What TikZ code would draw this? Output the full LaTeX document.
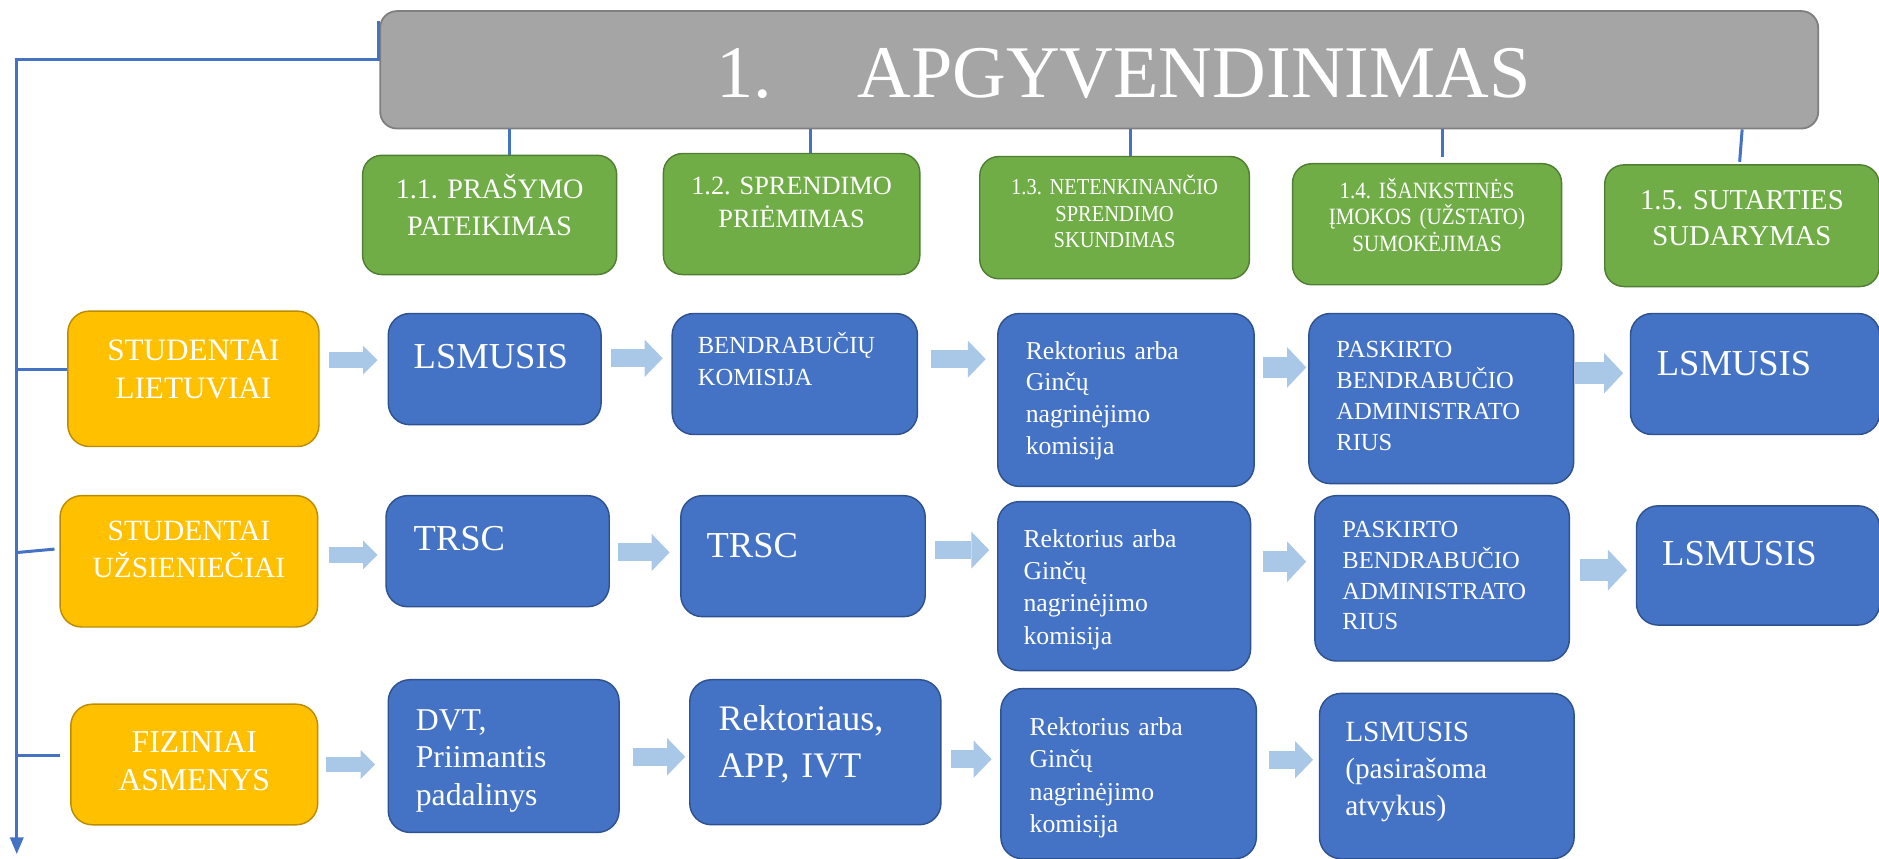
\documentclass[tikz,border=0pt]{standalone}
\usepackage{fontspec}
\setmainfont{Liberation Serif}
\newfontfamily\condserif[FakeStretch=0.9]{Liberation Serif}
\usetikzlibrary{arrows.meta,calc}
\frenchspacing
\definecolor{titlegray}{HTML}{A5A5A5}
\definecolor{titleedge}{HTML}{7F7F7F}
\definecolor{stepgreen}{HTML}{70AD47}
\definecolor{stepedge}{HTML}{507E32}
\definecolor{groupyellow}{HTML}{FFC000}
\definecolor{groupedge}{HTML}{BC8C00}
\definecolor{unitblue}{HTML}{4472C4}
\definecolor{unitedge}{HTML}{2F528F}
\definecolor{arrowblue}{HTML}{A9C8E8}
\definecolor{connblue}{HTML}{4472C4}
% name, style, x, y, w, h, first-baseline offset, side padding, text
\newcommand\mybox[9]{%
  \pgfmathsetmacro\myTW{#5-2*#8}\pgfmathsetmacro\myTD{#6-#7}%
  \node[#2, anchor=north west, inner sep=0pt, minimum width=#5pt,
        text width=\myTW pt, text height=#7pt, text depth=\myTD pt] (#1) at (#3,#4) {\frenchspacing #9};}
% style, from, to, gap at start, gap at end, y
\newcommand\barr[6]{%
  \coordinate (tmpY) at (0,#6);
  \path (#2.east) ++(#4,0) coordinate (tmpA);
  \path (#3.west) ++(-#5,0) coordinate (tmpB);
  \draw[#1] (tmpA |- tmpY) -- (tmpB |- tmpY);}
\begin{document}
\begin{tikzpicture}[x=1pt,y=-1pt,
  titlebox/.style={fill=titlegray, draw=titleedge, line width=1.5pt, rounded corners=14pt, text=white, align=left},
  stepbox/.style={fill=stepgreen, draw=stepedge, line width=1.2pt, rounded corners=16pt, text=white, align=center},
  groupbox/.style={fill=groupyellow, draw=groupedge, line width=1.2pt, rounded corners=18pt, text=white, align=center},
  unitbox/.style={fill=unitblue, draw=unitedge, line width=1.2pt, rounded corners=18pt, text=white, align=left},
  conn/.style={draw=connblue, line width=2.5pt},
  barrow/.style={draw=arrowblue, line width=15pt, -{Triangle[length=15pt,width=31pt,line width=0pt]}},
  barrowS/.style={draw=arrowblue, line width=13pt, -{Triangle[length=12pt,width=24pt,line width=0pt]}},
  barrowL/.style={draw=arrowblue, line width=18pt, -{Triangle[length=16pt,width=34pt,line width=0pt]}}]
\useasboundingbox (0,0) rectangle (1568,716);

% title
\mybox{title}{titlebox,font=\fontsize{62}{70}\selectfont}{316.5}{8.5}{1200}{98}{72.5}{20}{\hspace*{260.5pt}\makebox[118pt][l]{1.}APGYVENDINIMAS}

% steps
\mybox{g1}{stepbox,font=\fontsize{23.5}{31}\selectfont}{302}{129}{212}{99.5}{36}{4}{1.1. PRAŠYMO\\PATEIKIMAS}
\mybox{g2}{stepbox,font=\fontsize{22}{27}\selectfont}{553}{127.5}{214}{101}{34.5}{4}{1.2. SPRENDIMO\\PRIĖMIMAS}
\mybox{g3}{stepbox,font=\condserif\fontsize{19}{22}\selectfont}{817}{130}{225}{102}{32}{4}{1.3. NETENKINANČIO\\SPRENDIMO\\SKUNDIMAS}
\mybox{g4}{stepbox,font=\condserif\fontsize{19.5}{22}\selectfont}{1078}{136}{224.5}{101}{29}{4}{1.4. IŠANKSTINĖS\\ĮMOKOS (UŽSTATO)\\SUMOKĖJIMAS}
\mybox{g5}{stepbox,font=\fontsize{24}{30}\selectfont}{1338.5}{137}{229}{101.5}{37}{4}{1.5. SUTARTIES\\SUDARYMAS}

% groups
\mybox{ly1}{groupbox,font=\fontsize{26}{31.5}\selectfont}{56}{259}{209.6}{113}{41.5}{4}{STUDENTAI\\LIETUVIAI}
\mybox{ly2}{groupbox,font=\fontsize{24.5}{30.5}\selectfont}{49.5}{413}{215}{109.6}{37.6}{4}{STUDENTAI\\UŽSIENIEČIAI}
\mybox{ly3}{groupbox,font=\fontsize{26.5}{32}\selectfont}{58.5}{587}{206}{100.7}{40}{4}{FIZINIAI\\ASMENYS}

% units row 1
\mybox{b11}{unitbox,font=\fontsize{30.5}{36}\selectfont}{323.4}{261}{177.6}{92.8}{46}{21.2}{LSMUSIS}
\mybox{b12}{unitbox,font=\fontsize{20.5}{27}\selectfont}{560.3}{261}{204.7}{101}{33}{21.4}{BENDRABUČIŲ\\KOMISIJA}
\mybox{b13}{unitbox,font=\fontsize{21.5}{26.5}\selectfont}{832}{261}{214}{144.3}{38}{23.4}{Rektorius arba\\Ginčų\\nagrinėjimo\\komisija}
\mybox{b14}{unitbox,font=\fontsize{20.5}{26}\selectfont}{1091.6}{261}{221}{142}{36.6}{23}{PASKIRTO\\BENDRABUČIO\\ADMINISTRATO\\RIUS}
\mybox{b15}{unitbox,font=\fontsize{30.5}{36}\selectfont}{1360}{261}{208}{101}{52}{22}{LSMUSIS}
% units row 2
\mybox{b21}{unitbox,font=\fontsize{30.5}{36}\selectfont}{321.5}{413}{186.3}{92.7}{46}{23}{TRSC}
\mybox{b22}{unitbox,font=\fontsize{30.5}{36}\selectfont}{567.5}{413}{204}{101}{51.5}{21.5}{TRSC}
\mybox{b23}{unitbox,font=\fontsize{21.5}{27}\selectfont}{832}{418}{211}{141}{38}{21.5}{Rektorius arba\\Ginčų\\nagrinėjimo\\komisija}
\mybox{b24}{unitbox,font=\fontsize{20.5}{25.7}\selectfont}{1096.6}{413}{212.4}{138}{35}{23}{PASKIRTO\\BENDRABUČIO\\ADMINISTRATO\\RIUS}
\mybox{b25}{unitbox,font=\fontsize{30.5}{36}\selectfont}{1365}{421.5}{203}{99.5}{50}{21.5}{LSMUSIS}
% units row 3
\mybox{b31}{unitbox,font=\fontsize{26.5}{31.5}\selectfont}{323.4}{566.6}{192.6}{127.4}{42}{23}{DVT,\\Priimantis\\padalinys}
\mybox{b32}{unitbox,font=\fontsize{30}{39}\selectfont}{575}{566.6}{209.6}{121}{42.5}{24}{Rektoriaus,\\APP, IVT}
\mybox{b33}{unitbox,font=\fontsize{21.5}{27}\selectfont}{834.6}{574}{213.2}{142}{39}{24}{Rektorius arba\\Ginčų\\nagrinėjimo\\komisija}
\mybox{b34}{unitbox,font=\fontsize{24.5}{31}\selectfont}{1100.5}{578}{212.5}{138}{40}{21.5}{LSMUSIS\\(pasirašoma\\atvykus)}

% block arrows
\barr{barrowS}{ly1}{b11}{7.4}{8.4}{300.5}
\barr{barrow}{b11}{b12}{7.5}{7.3}{299}
\barr{barrow}{b12}{b13}{10.4}{9.4}{299.7}
\barr{barrowL}{b13}{b14}{6.5}{1.6}{306.6}
\barr{barrowL}{b14}{b15}{0.9}{5.5}{311.4}
\barr{barrowS}{ly2}{b21}{8.5}{6.5}{463}
\barr{barrow}{b21}{b22}{6.4}{8.7}{461}
\barr{barrow}{b22}{b23}{7.5}{6.5}{459}
\barr{barrowL}{b23}{b24}{9.5}{6.6}{468.7}
\barr{barrowL}{b24}{b25}{8}{7.2}{475.7}
\barr{barrowS}{ly3}{b31}{6.7}{10.4}{638}
\barr{barrow}{b31}{b32}{11}{3.2}{631.5}
\barr{barrow}{b32}{b33}{8}{7.1}{633.5}
\barr{barrow}{b33}{b34}{9.6}{4.7}{634}

% connectors title -> steps
\draw[conn] (g1.north) ++(16.7,0) coordinate (c1) -- (c1 |- title.south);
\draw[conn] (g2.north) ++(15.5,0) coordinate (c2) -- (c2 |- title.south);
\draw[conn] (g3.north) ++(13.5,0) coordinate (c3) -- (c3 |- title.south);
\draw[conn] (g4.north) ++(12.75,-5) coordinate (c4) -- (c4 |- title.south);
\draw[conn] (g5.north) ++(-1.9,-2) coordinate (c5) -- ($(c5 |- title.south)+(2.1,0)$);

% trunk and branches
\draw[conn,-{Triangle[length=14pt,width=11pt]}] (title.west) ++(-1,-40.5) coordinate (tA)
  -- ++(0,31.5) -- ++(-301.5,0) coordinate (trunk) -- ++(0,663.5) coordinate (trunkend);
\draw[conn] (ly1.west) ++(0,-8.1) coordinate (br1) -- (br1 -| trunk);
\draw[conn] (ly2.west) ++(-4,-10.2) coordinate (br2) -- ($(br2 -| trunk)+(0.9,2.8)$);
\draw[conn] (ly3.west) ++(-8.2,-7.85) coordinate (br3) -- (br3 -| trunk);
\end{tikzpicture}
\end{document}
